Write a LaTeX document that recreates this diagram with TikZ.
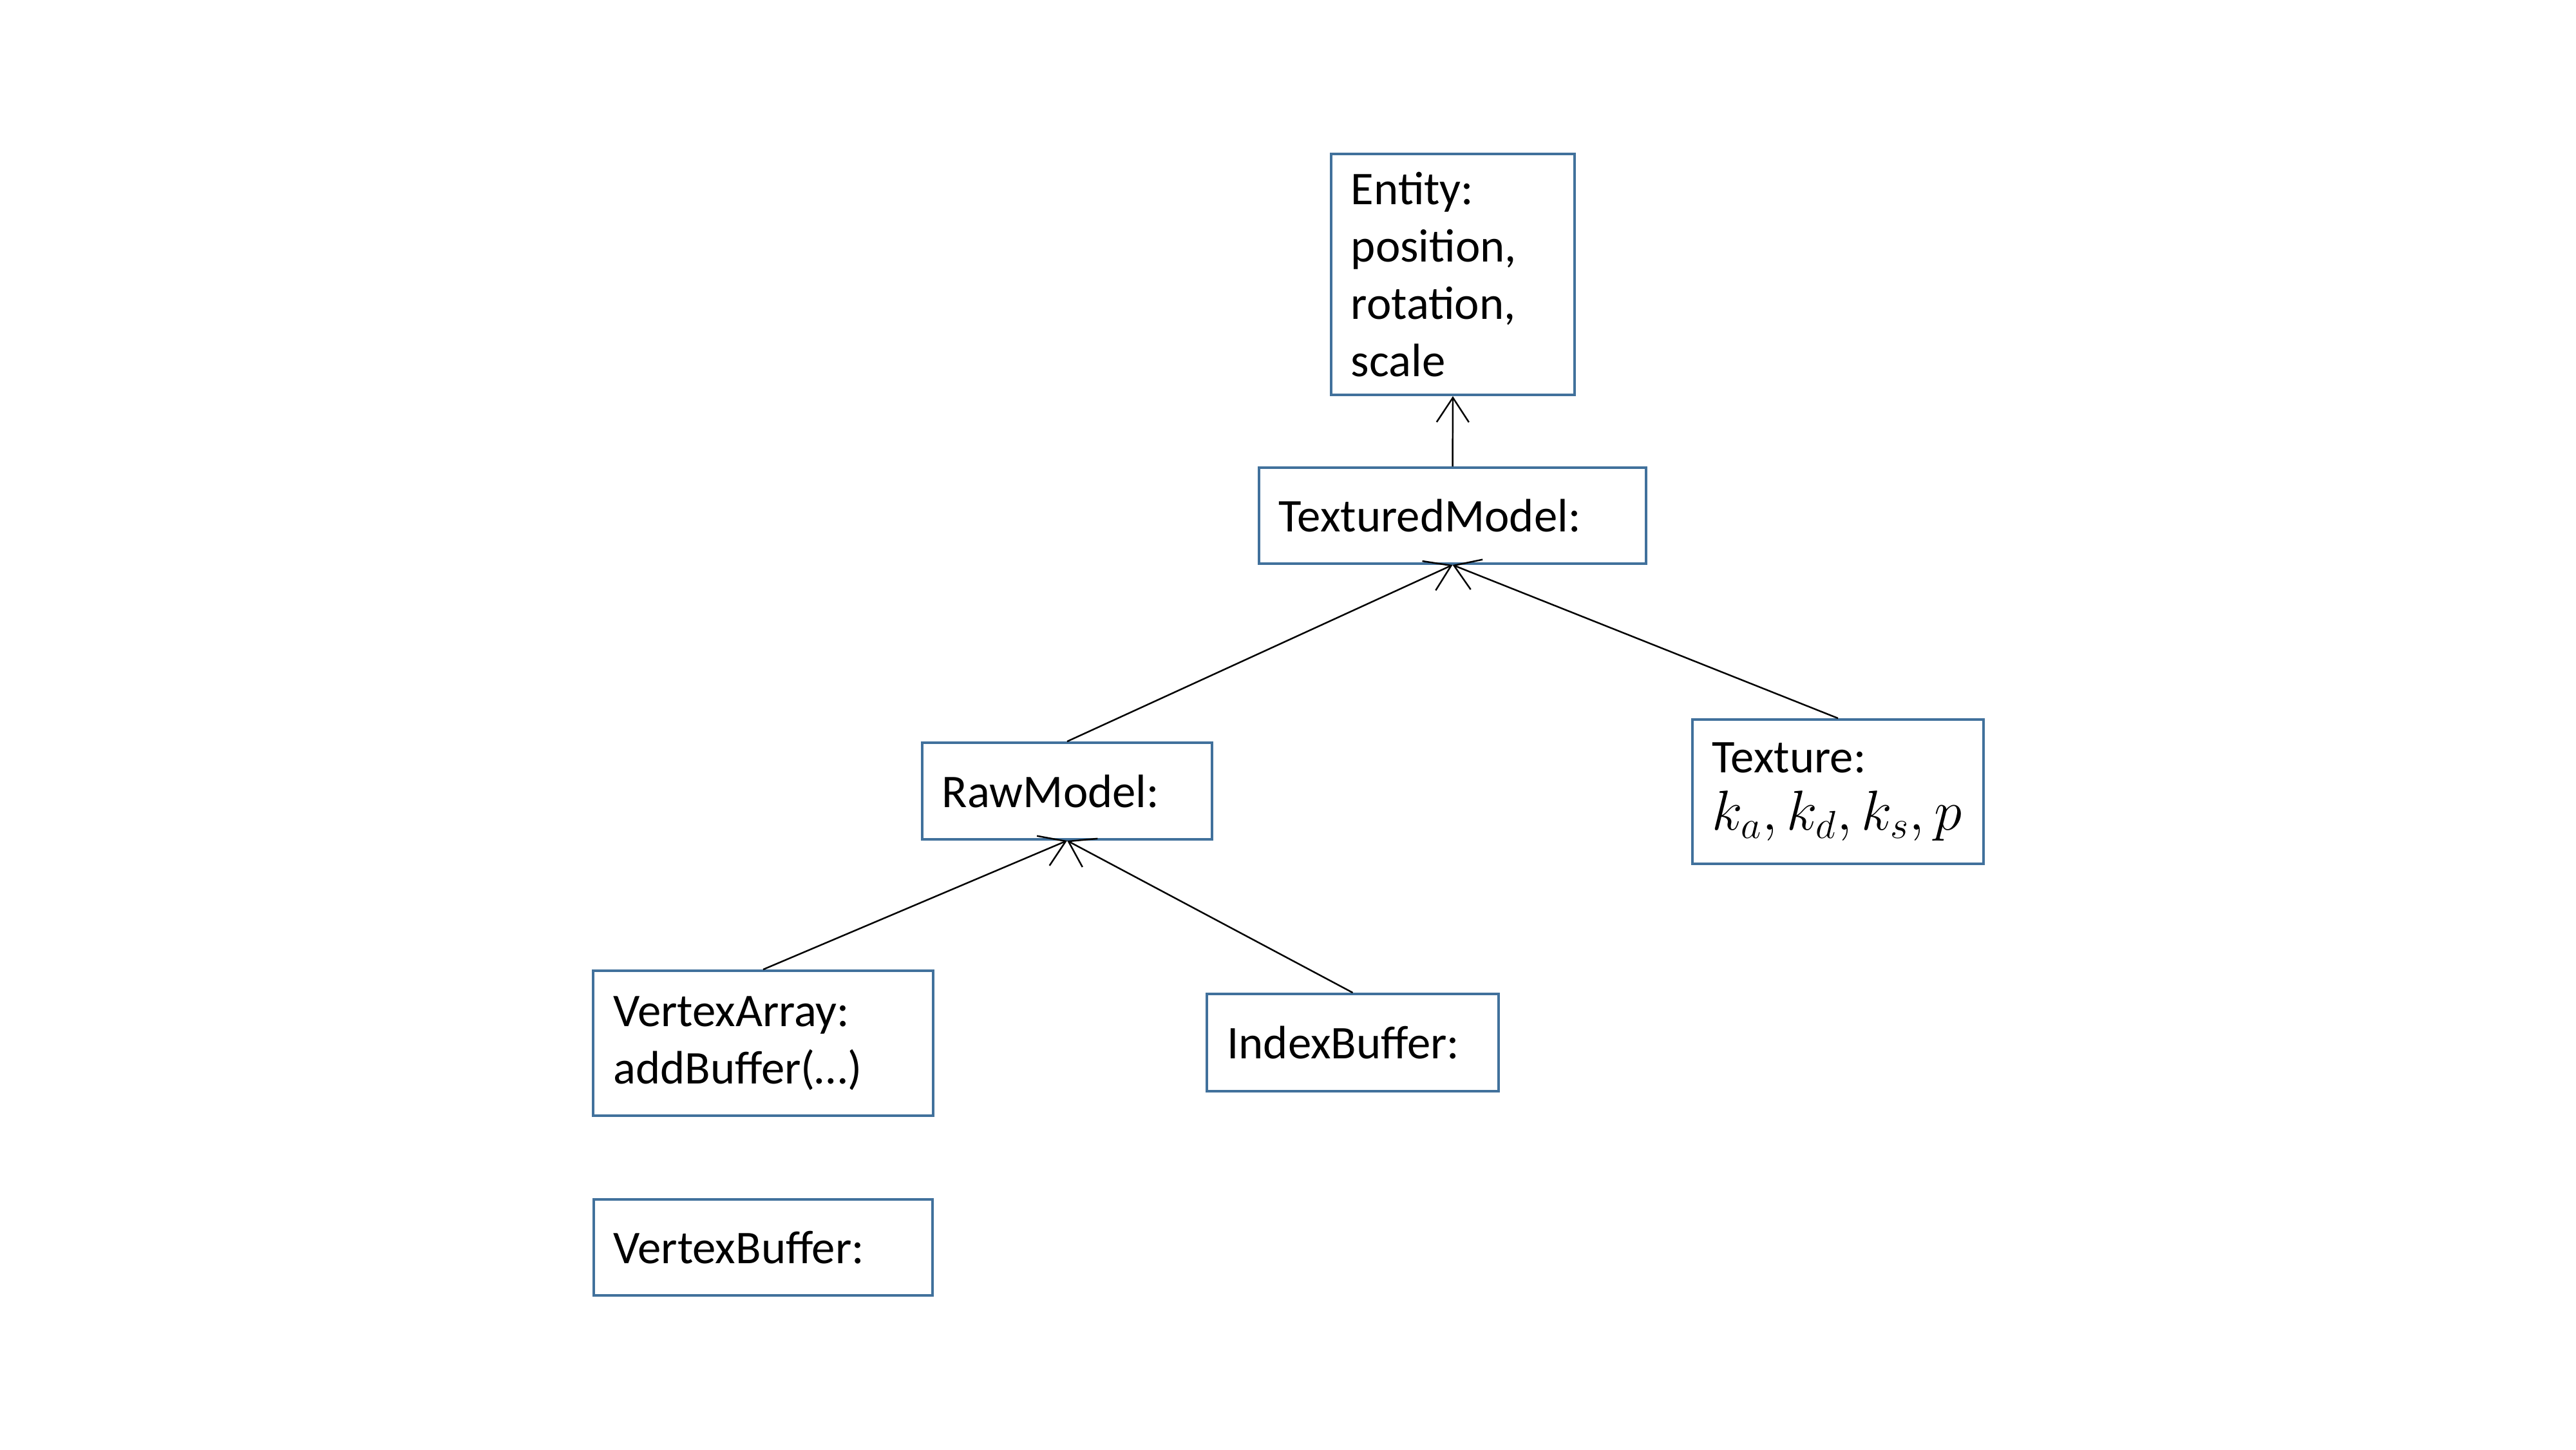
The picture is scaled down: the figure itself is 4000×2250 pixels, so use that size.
\documentclass[tikz,border=0pt]{standalone}
\usepackage{fontspec}
\setmainfont{Carlito}
\usetikzlibrary{arrows.meta}
\definecolor{boxblue}{HTML}{41719C}
\tikzset{
  cls/.style={draw=boxblue, line width=1.1pt, rectangle, inner xsep=0.31cm, inner ysep=0pt,
    align=left, font=\fontsize{20.7pt}{25.3pt}\selectfont, anchor=center},
  link/.style={draw=black, line width=0.7pt, -{Straight Barb[length=0.38cm,width=0.5cm]}}
}
\begin{document}
\begin{tikzpicture}[x=0.01cm,y=-0.01cm]
\useasboundingbox (0,0) rectangle (4000,2250);
% boxes: center (px), width/height in cm (1px = 0.01cm)
\node[cls, minimum width=3.78cm, minimum height=3.74cm, text width=3.16cm] (entity) at (2256,426) {Entity:\\position,\\rotation,\\scale};
\node[cls, minimum width=6.01cm, minimum height=1.49cm, text width=5.39cm] (textured) at (2255.5,800.5) {TexturedModel:};
\node[cls, minimum width=4.50cm, minimum height=1.50cm, text width=3.88cm] (raw) at (1657,1228) {RawModel:};
\node[cls, minimum width=4.52cm, minimum height=2.24cm, text width=3.90cm] (texture) at (2854,1229) {Texture:\\{\fontsize{23.5pt}{25.3pt}\selectfont $k_a, k_d, k_s, p$}};
\node[cls, minimum width=5.27cm, minimum height=2.25cm, text width=4.65cm] (varray) at (1185,1619.5) {VertexArray:\\addBuffer(…)};
\node[cls, minimum width=4.52cm, minimum height=1.51cm, text width=3.90cm] (ibuf) at (2100.5,1618.5) {IndexBuffer:};
\node[cls, minimum width=5.26cm, minimum height=1.49cm, text width=4.64cm] (vbuf) at (1185,1936.5) {VertexBuffer:};
% connectors
\draw[link] (textured.north) -- (entity.south);
\draw[link] (raw.north) -- (textured.south);
\draw[link] (texture.north) -- (textured.south);
\draw[link] (varray.north) -- (raw.south);
\draw[link] (ibuf.north) -- (raw.south);
\end{tikzpicture}
\end{document}
